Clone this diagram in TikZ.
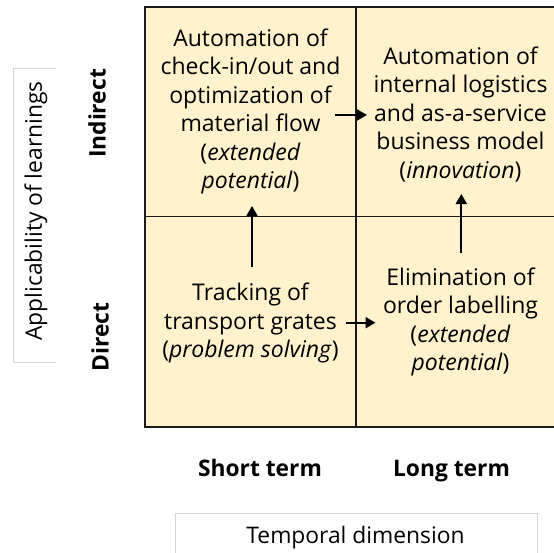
\documentclass[tikz,border=0pt]{standalone}
\usepackage{fontspec}
\setmainfont{Open Sans}
\usetikzlibrary{arrows.meta}
\definecolor{cellfill}{HTML}{FFF2CC}
\definecolor{gridline}{HTML}{1A1A1A}
\definecolor{boxgray}{HTML}{D4D4D4}
\tikzset{
  celltext/.style={align=center,inner sep=0pt,font=\fontsize{23}{28.5}\selectfont},
  axislabel/.style={inner sep=0pt,font=\bfseries\fontsize{22.8}{26}\selectfont},
  dimlabel/.style={inner sep=0pt,font=\fontsize{22.8}{26}\selectfont},
  arr/.style={line width=2pt,-{Triangle[length=10pt,width=11pt]}},
  gridln/.style={draw=gridline,line width=1.3pt},
  graybox/.style={draw=boxgray,line width=1pt}
}
\begin{document}
\begin{tikzpicture}[x=1pt,y=-1pt]
\clip (0,0) rectangle (554,552);
\fill[white] (0,0) rectangle (554,552);
% grid
\fill[cellfill] (145,7) rectangle (566,427);
\draw[gridln] (145,7) rectangle (566,427);
\draw[gridln] (356,7) -- (356,427);
\draw[gridln] (145,216.5) -- (566,216.5);
% cell texts
\node[celltext] (TL) at (250.5,111.5) {Automation of\\check-in/out and\\optimization of\\material flow\\(\textit{extended}\\\textit{potential})};
\node[celltext] (TR) at (460.5,114.5) {Automation of\\internal logistics\\and as-a-service\\business model\\(\textit{innovation})};
\node[celltext] (BL) at (250.5,323) {Tracking of\\transport grates\\(\textit{problem solving})};
\node[celltext] (BR) at (460.5,322) {Elimination of\\order labelling\\(\textit{extended}\\\textit{potential})};
% arrow end points
\coordinate (v1s) at (252,267);
\coordinate (v1e) at (252,206);
\coordinate (v2s) at (461.3,253);
\coordinate (v2e) at (461.3,194);
\coordinate (h1s) at (335,115);
\coordinate (h1e) at (367,115);
\coordinate (h2s) at (345.5,322.7);
\coordinate (h2e) at (375.5,322.7);
\draw[arr] (v1s) -- (v1e);
\draw[arr] (v2s) -- (v2e);
\draw[arr] (h1s) -- (h1e);
\draw[arr] (h2s) -- (h2e);
% axis labels
\node[axislabel,rotate=90] (ind) at (97,113.5) {Indirect};
\node[axislabel,rotate=90] (dir) at (100,337) {Direct};
\node[axislabel,anchor=base] (st) at (260,476) {Short term};
\node[axislabel,anchor=base] (lt) at (451.5,476) {Long term};
% dimension boxes
\draw[graybox] (56,68) -- (13,68) -- (13,362) -- (56,362);
\node[dimlabel,rotate=90] (app) at (36,211) {Applicability of learnings};
\draw[graybox] (175,560) -- (175,513) -- (537,513) -- (537,560);
\node[dimlabel,anchor=base] (temp) at (355.5,543) {Temporal dimension};
\end{tikzpicture}
\end{document}
